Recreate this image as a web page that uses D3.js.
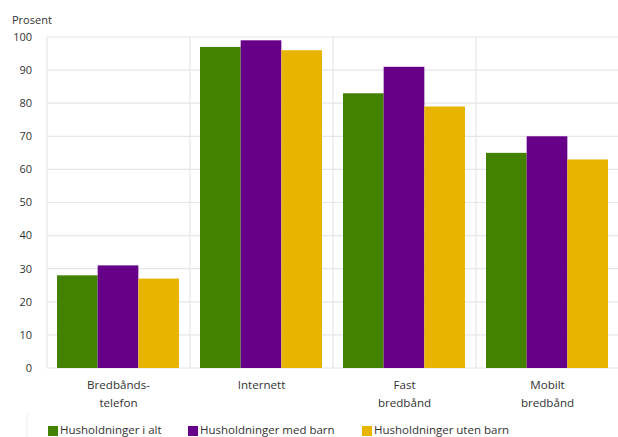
<!DOCTYPE html>
<html><head><meta charset="utf-8">
<script src="https://cdn.jsdelivr.net/npm/d3@7"></script>
<style>body{margin:0;background:#fff}svg{display:block}text{font-family:"Open Sans",sans-serif;fill:#333}</style>
</head><body>
<svg id="c" width="618" height="437"></svg>
<script>
const categories = [["Bredbånds-","telefon"],["Internett"],["Fast","bredbånd"],["Mobilt","bredbånd"]];
const seriesNames = ["Husholdninger i alt","Husholdninger med barn","Husholdninger uten barn"];
const colors = ["#428200","#660088","#e9b400"];
const valsAlt = [28,97,83,65];
const valsMed = [31,99,91,70];
const valsUten = [27,96,79,63];
const yTicks = [0,10,20,30,40,50,60,70,80,90,100];
const series = [valsAlt, valsMed, valsUten];

const svg = d3.select("#c");
const L=47, R=619, T=37, B=368;
const catKeys = categories.map((c,i)=>i);
const x = d3.scaleBand().domain(catKeys).range([L,R]);
const xi = d3.scaleBand().domain([0,1,2]).range([10, x.bandwidth()-11]);
const y = d3.scaleLinear().domain([0,100]).range([B,T]);

svg.append("g").selectAll("line").data(yTicks).join("line")
  .attr("x1",L).attr("x2",618).attr("y1",d=>y(d)).attr("y2",d=>y(d))
  .attr("stroke","#e6e6e6").attr("stroke-width",1.2);
svg.append("g").selectAll("line").data(catKeys.concat([4])).join("line")
  .attr("x1",d=>L+d*x.bandwidth()).attr("x2",d=>L+d*x.bandwidth())
  .attr("y1",T).attr("y2",B).attr("stroke","#e6e6e6").attr("stroke-width",1.2);

svg.append("g").selectAll("text").data(yTicks).join("text")
  .attr("x",32).attr("y",d=>y(d)).attr("dy","0.35em").attr("text-anchor","end")
  .attr("font-size",11).text(d=>d);
svg.append("text").attr("x",12).attr("y",24).attr("font-size",11).text("Prosent");

series.forEach((vals,si)=>{
  svg.append("g").selectAll("rect").data(vals).join("rect")
    .attr("x",(d,i)=>x(i)+xi(si)).attr("width",xi.bandwidth())
    .attr("y",d=>y(d)).attr("height",d=>B-y(d)).attr("fill",colors[si]);
});

const cl = svg.append("g").selectAll("text").data(categories).join("text")
  .attr("text-anchor","middle").attr("font-size",11.6)
  .attr("x",(d,i)=>x(i)+x.bandwidth()/2).attr("y",389);
cl.selectAll("tspan").data(d=>d).join("tspan")
  .attr("x",function(){return this.parentNode.getAttribute("x");})
  .attr("dy",(d,i)=>i?18:0).text(d=>d);

const legX=[48,188,362];
const lg = svg.append("g").selectAll("g").data(seriesNames).join("g")
  .attr("transform",(d,i)=>`translate(${legX[i]},0)`);
lg.append("rect").attr("x",0).attr("y",426).attr("width",10).attr("height",10).attr("fill",(d,i)=>colors[i]);
lg.append("text").attr("x",12).attr("y",434).attr("font-size",11.5).text(d=>d);
svg.append("line").attr("x1",27).attr("x2",27).attr("y1",414).attr("y2",437).attr("stroke","#eee");
</script>
</body></html>
